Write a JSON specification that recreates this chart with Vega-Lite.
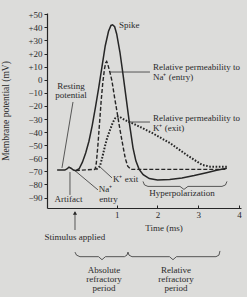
{
  "$schema": "https://vega.github.io/schema/vega-lite/v6.json",
  "width": 194,
  "height": 195,
  "autosize": {"type": "none"},
  "padding": {"left": 47, "top": 13, "right": 6, "bottom": 89},
  "background": "#dcdcda",
  "config": {
    "view": {"stroke": null},
    "font": "Liberation Serif",
    "axis": {"labelOverlap": false, "labelFlush": false, "labelBound": false},
    "axisY": {"labelOverlap": false},
    "text": {"font": "Liberation Serif", "fontSize": 9, "color": "#2a2a2a"}
  },
  "resolve": {"axis": {"y": "shared"}},
  "encoding": {
    "x": {"field": "t", "type": "quantitative", "scale": {"domain": [-0.708, 4.047], "nice": false, "zero": false},
      "axis": {"values": [1, 2, 3, 4], "title": null, "domainColor": "#262626", "domainWidth": 1.2, "tickColor": "#262626", "tickSize": -3, "labelPadding": 5, "labelFont": "Liberation Serif", "labelFontSize": 9, "labelColor": "#2a2a2a", "grid": false}},
    "y": {"field": "v", "type": "quantitative", "scale": {"domain": [-98, 51], "nice": false, "zero": false},
      "axis": {"values": [-90, -80, -70, -60, -50, -40, -30, -20, -10, 0, 10, 20, 30, 40, 50],
        "labelExpr": "datum.value > 0 ? '+' + datum.value : (datum.value < 0 ? '−' + (-datum.value) : '0')",
        "labelOverlap": false,
        "title": "Membrane potential (mV)", "titleFont": "Liberation Serif", "titleFontSize": 9.5, "titleFontWeight": "normal", "titleColor": "#2a2a2a", "titleX": -37,
        "domainColor": "#262626", "domainWidth": 1.2, "tickColor": "#262626", "tickSize": 3, "labelPadding": 2, "labelFont": "Liberation Serif", "labelFontSize": 9, "labelColor": "#2a2a2a", "grid": false}}
  },
  "datasets": {
    "curves": [
      {"s": "Vm", "t": -0.46, "v": -69}, {"s": "Vm", "t": -0.27, "v": -69}, {"s": "Vm", "t": -0.22, "v": -68.2},
      {"s": "Vm", "t": -0.17, "v": -66.8}, {"s": "Vm", "t": -0.12, "v": -67.6}, {"s": "Vm", "t": -0.06, "v": -69},
      {"s": "Vm", "t": 0.0, "v": -69.5}, {"s": "Vm", "t": 0.08, "v": -68}, {"s": "Vm", "t": 0.16, "v": -63},
      {"s": "Vm", "t": 0.24, "v": -56}, {"s": "Vm", "t": 0.32, "v": -47}, {"s": "Vm", "t": 0.4, "v": -35},
      {"s": "Vm", "t": 0.48, "v": -21}, {"s": "Vm", "t": 0.56, "v": -6}, {"s": "Vm", "t": 0.64, "v": 10},
      {"s": "Vm", "t": 0.72, "v": 26}, {"s": "Vm", "t": 0.8, "v": 37}, {"s": "Vm", "t": 0.86, "v": 41.5},
      {"s": "Vm", "t": 0.9, "v": 42}, {"s": "Vm", "t": 0.95, "v": 40.5}, {"s": "Vm", "t": 1.0, "v": 35},
      {"s": "Vm", "t": 1.08, "v": 21}, {"s": "Vm", "t": 1.16, "v": 3}, {"s": "Vm", "t": 1.24, "v": -16},
      {"s": "Vm", "t": 1.32, "v": -35}, {"s": "Vm", "t": 1.4, "v": -52}, {"s": "Vm", "t": 1.47, "v": -62},
      {"s": "Vm", "t": 1.55, "v": -68.5}, {"s": "Vm", "t": 1.65, "v": -72.5}, {"s": "Vm", "t": 1.8, "v": -75.5},
      {"s": "Vm", "t": 2.0, "v": -76.6}, {"s": "Vm", "t": 2.3, "v": -76.3}, {"s": "Vm", "t": 2.6, "v": -75},
      {"s": "Vm", "t": 2.9, "v": -73.2}, {"s": "Vm", "t": 3.2, "v": -71}, {"s": "Vm", "t": 3.45, "v": -69.2},
      {"s": "Vm", "t": 3.7, "v": -67.6},
      {"s": "Na", "t": 0.0, "v": -69.3}, {"s": "Na", "t": 0.47, "v": -68.5}, {"s": "Na", "t": 0.5, "v": -64},
      {"s": "Na", "t": 0.54, "v": -50}, {"s": "Na", "t": 0.58, "v": -33}, {"s": "Na", "t": 0.62, "v": -16},
      {"s": "Na", "t": 0.66, "v": -2}, {"s": "Na", "t": 0.7, "v": 8}, {"s": "Na", "t": 0.73, "v": 13},
      {"s": "Na", "t": 0.755, "v": 14}, {"s": "Na", "t": 0.78, "v": 12}, {"s": "Na", "t": 0.84, "v": 5},
      {"s": "Na", "t": 0.885, "v": -1}, {"s": "Na", "t": 0.94, "v": -12}, {"s": "Na", "t": 1.0, "v": -23},
      {"s": "Na", "t": 1.08, "v": -38}, {"s": "Na", "t": 1.15, "v": -50}, {"s": "Na", "t": 1.21, "v": -60},
      {"s": "Na", "t": 1.27, "v": -66}, {"s": "Na", "t": 1.35, "v": -68.5}, {"s": "Na", "t": 3.7, "v": -68.5},
      {"s": "K", "t": 0.5, "v": -68.5}, {"s": "K", "t": 0.59, "v": -66}, {"s": "K", "t": 0.65, "v": -59},
      {"s": "K", "t": 0.71, "v": -51}, {"s": "K", "t": 0.77, "v": -44}, {"s": "K", "t": 0.84, "v": -38},
      {"s": "K", "t": 0.9, "v": -33}, {"s": "K", "t": 0.96, "v": -29.5}, {"s": "K", "t": 1.02, "v": -28.3},
      {"s": "K", "t": 1.07, "v": -28.3}, {"s": "K", "t": 1.13, "v": -29.5}, {"s": "K", "t": 1.25, "v": -31.5},
      {"s": "K", "t": 1.4, "v": -33.5}, {"s": "K", "t": 1.57, "v": -36}, {"s": "K", "t": 1.89, "v": -41},
      {"s": "K", "t": 2.31, "v": -48.5}, {"s": "K", "t": 2.72, "v": -57.5}, {"s": "K", "t": 3.09, "v": -65},
      {"s": "K", "t": 3.3, "v": -66.5}, {"s": "K", "t": 3.7, "v": -66.5}
    ],
    "guides": [
      {"id": "rest", "i": 0, "t": -0.071, "v": -17}, {"id": "rest", "i": 1, "t": -0.341, "v": -67.4},
      {"id": "art", "i": 0, "t": -0.145, "v": -70.5}, {"id": "art", "i": 1, "t": -0.145, "v": -88},
      {"id": "nae", "i": 0, "t": -0.022, "v": -69.5}, {"id": "nae", "i": 1, "t": 0.542, "v": -84.2},
      {"id": "kex", "i": 0, "t": 0.591, "v": -66.6}, {"id": "kex", "i": 1, "t": 0.885, "v": -75},
      {"id": "nap", "i": 0, "t": 0.836, "v": 5.9}, {"id": "nap", "i": 1, "t": 1.816, "v": 5.9},
      {"id": "kp", "i": 0, "t": 1.277, "v": -32.3}, {"id": "kp", "i": 1, "t": 1.816, "v": -32.3},
      {"id": "stim", "i": 0, "t": -0.022, "v": -114.8}, {"id": "stim", "i": 1, "t": -0.022, "v": -101},
      {"id": "hyp", "i": 0, "t": 1.645, "v": -77.7}, {"id": "hyp", "i": 1, "t": 1.681, "v": -80.4},
      {"id": "hyp", "i": 2, "t": 1.767, "v": -81.5}, {"id": "hyp", "i": 3, "t": 2.551, "v": -81.5},
      {"id": "hyp", "i": 4, "t": 2.649, "v": -83.8}, {"id": "hyp", "i": 5, "t": 2.747, "v": -81.5},
      {"id": "hyp", "i": 6, "t": 3.581, "v": -81.5}, {"id": "hyp", "i": 7, "t": 3.667, "v": -80.4},
      {"id": "hyp", "i": 8, "t": 3.703, "v": -77.7},
      {"id": "abs", "i": 0, "t": -0.022, "v": -131.7}, {"id": "abs", "i": 1, "t": 0.015, "v": -134.0},
      {"id": "abs", "i": 2, "t": 0.1, "v": -135.2}, {"id": "abs", "i": 3, "t": 0.554, "v": -135.2},
      {"id": "abs", "i": 4, "t": 0.64, "v": -137.5}, {"id": "abs", "i": 5, "t": 0.725, "v": -135.2},
      {"id": "abs", "i": 6, "t": 1.191, "v": -135.2}, {"id": "abs", "i": 7, "t": 1.252, "v": -134.0},
      {"id": "abs", "i": 8, "t": 1.277, "v": -131.7},
      {"id": "rel", "i": 0, "t": 1.277, "v": -131.7}, {"id": "rel", "i": 1, "t": 1.301, "v": -134.0},
      {"id": "rel", "i": 2, "t": 1.375, "v": -135.2}, {"id": "rel", "i": 3, "t": 2.294, "v": -135.2},
      {"id": "rel", "i": 4, "t": 2.38, "v": -137.5}, {"id": "rel", "i": 5, "t": 2.466, "v": -135.2},
      {"id": "rel", "i": 6, "t": 3.434, "v": -135.2}, {"id": "rel", "i": 7, "t": 3.507, "v": -134.0},
      {"id": "rel", "i": 8, "t": 3.532, "v": -130.8}
    ],
    "labels": [
      {"a": "l", "t": 1.056, "v": 42.2, "txt": "Spike"},
      {"a": "l", "t": 1.89, "v": 10.0, "txt": "Relative permeability to"},
      {"a": "l", "t": 1.89, "v": 2.0, "txt": "Na⁺ (entry)"},
      {"a": "l", "t": 1.89, "v": -29.3, "txt": "Relative permeability to"},
      {"a": "l", "t": 1.89, "v": -36.6, "txt": "K⁺ (exit)"},
      {"a": "l", "t": 0.909, "v": -75.8, "txt": "K⁺ exit"},
      {"a": "c", "t": -0.12, "v": -4.8, "txt": "Resting"},
      {"a": "c", "t": -0.12, "v": -11.6, "txt": "potential"},
      {"a": "c", "t": -0.18, "v": -91.1, "txt": "Artifact"},
      {"a": "c", "t": 0.725, "v": -83.6, "txt": "Na⁺"},
      {"a": "c", "t": 0.797, "v": -91.2, "txt": "entry"},
      {"a": "c", "t": 2.6, "v": -86.7, "txt": "Hyperpolarization"},
      {"a": "c", "t": 2.16, "v": -113.2, "txt": "Time (ms)"},
      {"a": "c", "t": -0.022, "v": -119.9, "txt": "Stimulus applied"},
      {"a": "c", "t": 0.689, "v": -145.3, "txt": "Absolute"},
      {"a": "c", "t": 0.689, "v": -152.2, "txt": "refractory"},
      {"a": "c", "t": 0.689, "v": -159.1, "txt": "period"},
      {"a": "c", "t": 2.453, "v": -145.3, "txt": "Relative"},
      {"a": "c", "t": 2.453, "v": -152.2, "txt": "refractory"},
      {"a": "c", "t": 2.453, "v": -159.1, "txt": "period"}
    ],
    "arrow": [{"t": -0.022, "v": -101.8}]
  },
  "layer": [
    {
      "data": {"name": "curves"},
      "transform": [{"filter": "datum.s === 'Vm'"}],
      "mark": {"type": "line", "color": "#262626", "strokeWidth": 1.5, "clip": false}
    },
    {
      "data": {"name": "curves"},
      "transform": [{"filter": "datum.s === 'Na'"}],
      "mark": {"type": "line", "color": "#262626", "strokeWidth": 1.4, "strokeDash": [4, 2], "clip": false}
    },
    {
      "data": {"name": "curves"},
      "transform": [{"filter": "datum.s === 'K'"}],
      "mark": {"type": "line", "color": "#262626", "strokeWidth": 2, "strokeDash": [1.6, 1.6], "clip": false}
    },
    {
      "data": {"name": "guides"},
      "mark": {"type": "line", "color": "#333333", "strokeWidth": 0.8, "clip": false},
      "encoding": {
        "detail": {"field": "id"},
        "order": {"field": "i"}
      }
    },
    {
      "data": {"name": "arrow"},
      "mark": {"type": "point", "shape": "triangle-up", "filled": true, "color": "#262626", "size": 18, "opacity": 1, "clip": false}
    },
    {
      "data": {"name": "labels"},
      "transform": [{"filter": "datum.a === 'l'"}],
      "mark": {"type": "text", "align": "left", "baseline": "middle", "clip": false},
      "encoding": {"text": {"field": "txt"}}
    },
    {
      "data": {"name": "labels"},
      "transform": [{"filter": "datum.a === 'c'"}],
      "mark": {"type": "text", "align": "center", "baseline": "middle", "clip": false},
      "encoding": {"text": {"field": "txt"}}
    }
  ]
}
